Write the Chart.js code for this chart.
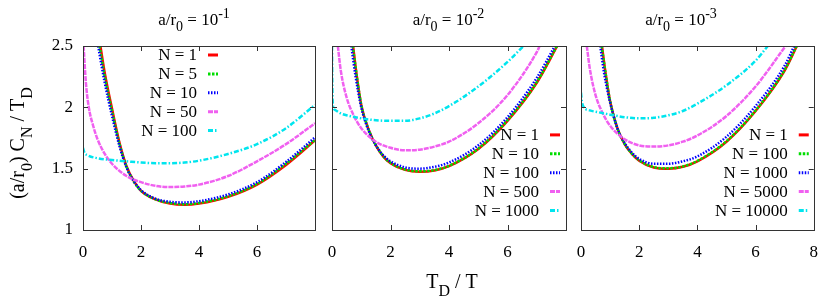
<!DOCTYPE html>
<html>
<head>
<meta charset="utf-8">
<script src="https://cdn.jsdelivr.net/npm/chart.js@4.4.1/dist/chart.umd.min.js"></script>
<style>
  html, body { margin: 0; padding: 0; background: #fff; }
  #wrap { position: relative; width: 830px; height: 308px; }
  .layer { position: absolute; left: 0; top: 0; width: 830px; height: 308px; }
  #probe { position: absolute; left: -1000px; top: 0; font-family: 'Liberation Serif', 'DejaVu Serif', serif; font-size: 17px; }
</style>
</head>
<body>
<div id="probe">N = 1 a/r 0123456789</div>
<div id="wrap">
  <div class="layer"><canvas id="c1"></canvas></div>
  <div class="layer"><canvas id="c2"></canvas></div>
  <div class="layer"><canvas id="c3"></canvas></div>
</div>
<script>
// ticks shared by all panels
const xTicks = [0, 2, 4, 6, 8];
const yTicks = [1, 1.5, 2, 2.5];

// legend labels
const labels1 = ['N = 1', 'N = 5', 'N = 10', 'N = 50', 'N = 100'];
const labels2 = ['N = 1', 'N = 10', 'N = 100', 'N = 500', 'N = 1000'];
const labels3 = ['N = 1', 'N = 100', 'N = 1000', 'N = 5000', 'N = 10000'];

// panel 1: a/r0 = 1e-1   [T_D/T, (a/r0) C_N / T_D]
const p1_n1 = [[0.6,2.5],[0.75,2.28],[1,1.99],[1.25,1.72],[1.5,1.52],[1.75,1.4],[2,1.32],[2.5,1.25],[3,1.215],[3.5,1.205],[4,1.215],[5,1.27],[6,1.37],[7,1.53],[8,1.73]];
const p1_n5 = [[0.57,2.5],[0.75,2.25],[1,1.97],[1.25,1.71],[1.5,1.515],[1.75,1.395],[2,1.32],[2.5,1.25],[3,1.22],[3.5,1.21],[4,1.22],[5,1.275],[6,1.375],[7,1.54],[8,1.735]];
const p1_n10 = [[0.52,2.5],[0.75,2.2],[1,1.93],[1.25,1.69],[1.5,1.51],[1.75,1.4],[2,1.325],[2.5,1.255],[3,1.23],[3.5,1.225],[4,1.235],[5,1.29],[6,1.39],[7,1.555],[8,1.755]];
const p1_n50 = [[0.02,2.5],[0.1,2.2],[0.2,2.0],[0.35,1.85],[0.5,1.74],[0.75,1.62],[1,1.54],[1.5,1.44],[2,1.39],[2.5,1.36],[3,1.35],[3.5,1.355],[4,1.37],[5,1.44],[6,1.56],[7,1.7],[8,1.87]];
const p1_n100 = [[0,1.67],[0.05,1.63],[0.15,1.61],[0.5,1.585],[1,1.57],[1.5,1.56],[2,1.55],[2.5,1.545],[3,1.545],[3.5,1.55],[4,1.565],[5,1.62],[6,1.7],[7,1.83],[8,2.02]];

// panel 2: a/r0 = 1e-2
const p2_n1 = [[0.72,2.5],[0.85,2.25],[1,2.02],[1.25,1.82],[1.5,1.69],[1.75,1.6],[2,1.545],[2.5,1.49],[3,1.475],[3.5,1.485],[4,1.52],[5,1.66],[6,1.89],[7,2.2],[7.7,2.5]];
const p2_n10 = [[0.71,2.5],[0.85,2.25],[1,2.02],[1.25,1.82],[1.5,1.692],[1.75,1.603],[2,1.548],[2.5,1.493],[3,1.478],[3.5,1.488],[4,1.523],[5,1.663],[6,1.895],[7,2.205],[7.69,2.5]];
const p2_n100 = [[0.66,2.5],[0.8,2.26],[1,2.0],[1.25,1.81],[1.5,1.69],[1.75,1.61],[2,1.56],[2.5,1.51],[3,1.5],[3.5,1.515],[4,1.55],[5,1.69],[6,1.92],[7,2.24],[7.62,2.5]];
const p2_n500 = [[0.2,2.5],[0.3,2.3],[0.5,2.08],[0.75,1.93],[1,1.83],[1.5,1.72],[2,1.67],[2.5,1.65],[3,1.655],[3.5,1.68],[4,1.72],[5,1.87],[6,2.1],[7,2.45],[7.1,2.5]];
const p2_n1000 = [[0,2.5],[0.01,2.2],[0.03,2.02],[0.1,1.98],[0.3,1.95],[0.6,1.93],[1,1.91],[1.5,1.895],[2,1.89],[2.5,1.89],[3,1.91],[3.5,1.95],[4,2.01],[5,2.17],[6,2.37],[6.55,2.5]];

// panel 3: a/r0 = 1e-3
const p3_n1 = [[0.72,2.5],[0.85,2.27],[1,2.05],[1.25,1.83],[1.5,1.7],[1.75,1.62],[2,1.565],[2.5,1.51],[3,1.5],[3.5,1.515],[4,1.56],[5,1.72],[6,1.97],[7,2.3],[7.42,2.5]];
const p3_n100 = [[0.71,2.5],[0.85,2.27],[1,2.05],[1.25,1.83],[1.5,1.702],[1.75,1.622],[2,1.568],[2.5,1.513],[3,1.503],[3.5,1.518],[4,1.563],[5,1.724],[6,1.974],[7,2.305],[7.41,2.5]];
const p3_n1000 = [[0.66,2.5],[0.8,2.27],[1,2.04],[1.25,1.83],[1.5,1.71],[1.75,1.63],[2,1.58],[2.5,1.54],[3,1.54],[3.5,1.56],[4,1.6],[5,1.76],[6,2.01],[7,2.34],[7.33,2.5]];
const p3_n5000 = [[0.2,2.5],[0.3,2.32],[0.5,2.1],[0.75,1.95],[1,1.85],[1.5,1.74],[2,1.69],[2.5,1.68],[3,1.69],[3.5,1.72],[4,1.77],[5,1.93],[6,2.17],[7,2.49],[7.03,2.5]];
const p3_n10000 = [[0,2.12],[0.03,2.05],[0.1,2.0],[0.3,1.975],[0.6,1.96],[1,1.94],[1.5,1.92],[2,1.91],[2.5,1.915],[3,1.935],[3.5,1.97],[4,2.03],[5,2.18],[6,2.38],[6.42,2.5]];

const FONT = "'Liberation Serif', 'DejaVu Serif', serif";

// gnuplot-ish line styles, one per series slot
const styles = [
  { color: '#ff0000', dash: [] },
  { color: '#00dd00', dash: [2.5, 1.5] },
  { color: '#0000ff', dash: [1.5, 1.5] },
  { color: '#f060f0', dash: [5, 1] },
  { color: '#00e5ee', dash: [5, 2, 1.5, 2] }
];

// draw text with sub/superscripts; parts = [[text, 0 normal | 1 sub | 2 sup], ...]
function drawRich(ctx, parts, x, y, size, align) {
  const small = Math.round(size * 0.82);
  let w = 0;
  parts.forEach(p => {
    ctx.font = (p[1] ? small : size) + 'px ' + FONT;
    w += ctx.measureText(p[0]).width;
  });
  let cx = align === 'center' ? x - w / 2 : x;
  ctx.textAlign = 'left';
  ctx.textBaseline = 'alphabetic';
  ctx.fillStyle = '#000';
  parts.forEach(p => {
    ctx.font = (p[1] ? small : size) + 'px ' + FONT;
    const dy = p[1] === 1 ? size * 0.38 : (p[1] === 2 ? -size * 0.42 : 0);
    ctx.fillText(p[0], cx, y + dy);
    cx += ctx.measureText(p[0]).width;
  });
}

const panelPlugin = {
  id: 'panel',
  afterDatasetsDraw(chart, args, opts) {
    const { ctx, chartArea: a, scales } = chart;
    ctx.save();
    ctx.strokeStyle = '#333';
    ctx.lineWidth = 1;
    ctx.setLineDash([]);
    ctx.strokeRect(Math.round(a.left) + 0.5, Math.round(a.top) + 0.5, Math.round(a.right - a.left), Math.round(a.bottom - a.top));
    ctx.beginPath();
    xTicks.forEach(v => {
      if (v <= 0 || v >= 8) return;
      const px = Math.round(scales.x.getPixelForValue(v)) + 0.5;
      ctx.moveTo(px, a.bottom); ctx.lineTo(px, a.bottom - 5);
      ctx.moveTo(px, a.top); ctx.lineTo(px, a.top + 5);
    });
    yTicks.forEach(v => {
      if (v <= 1 || v >= 2.5) return;
      const py = Math.round(scales.y.getPixelForValue(v)) + 0.5;
      ctx.moveTo(a.left, py); ctx.lineTo(a.left + 5, py);
      ctx.moveTo(a.right, py); ctx.lineTo(a.right - 5, py);
    });
    ctx.stroke();
    ctx.restore();
  },
  afterDraw(chart, args, opts) {
    const { ctx, chartArea: a } = chart;
    ctx.save();
    // title
    drawRich(ctx, opts.title, opts.titleX, 25, 17, 'center');
    // legend inside plot
    const lg = opts.legend;
    const textRight = lg.fromLeft != null ? a.left + lg.fromLeft : a.right - lg.fromRight;
    const n = chart.data.datasets.length;
    chart.data.datasets.forEach((ds, i) => {
      const y = lg.top != null ? a.top + lg.top + i * 18.9 : a.bottom - lg.bottom - (n - 1 - i) * 18.9;
      ctx.font = '17px ' + FONT;
      ctx.fillStyle = '#000';
      ctx.textAlign = 'right';
      ctx.textBaseline = 'middle';
      ctx.fillText(ds.label, textRight, y + 1);
      ctx.strokeStyle = ds.borderColor;
      ctx.lineWidth = 3;
      ctx.setLineDash(ds.borderDash);
      ctx.beginPath();
      ctx.moveTo(textRight + 11, y);
      ctx.lineTo(textRight + 21, y);
      ctx.stroke();
    });
    ctx.setLineDash([]);
    // axis titles
    if (opts.yTitle) {
      ctx.translate(24, 143);
      ctx.rotate(-Math.PI / 2);
      drawRich(ctx, [['(a/r', 0], ['0', 1], [') C', 0], ['N', 1], [' / T', 0], ['D', 1]], 0, 0, 20, 'center');
      ctx.setTransform(1, 0, 0, 1, 0, 0);
    }
    if (opts.xTitle) {
      drawRich(ctx, [['T', 0], ['D', 1], [' / T', 0]], 452, 288, 20, 'center');
    }
    ctx.restore();
  }
};

function makePanel(id, series, labels, cfg) {
  const datasets = series.map((s, i) => ({
    label: labels[i],
    data: s.map(p => ({ x: p[0], y: p[1] })),
    borderColor: styles[i].color,
    borderDash: styles[i].dash,
    borderWidth: 2.5,
    pointRadius: 0,
    showLine: true,
    fill: false,
    cubicInterpolationMode: 'monotone',
    order: 4 - i
  }));
  new Chart(document.getElementById(id), {
    type: 'scatter',
    data: { datasets },
    plugins: [panelPlugin],
    options: {
      responsive: true,
      maintainAspectRatio: false,
      animation: false,
      events: [],
      layout: { padding: { left: cfg.padLeft, right: cfg.padRight, top: 46, bottom: 48 } },
      scales: {
        x: {
          type: 'linear', min: 0, max: 8,
          grid: { display: false, drawTicks: false },
          border: { display: false },
          afterBuildTicks: s => { s.ticks = xTicks.filter(v => v <= cfg.maxXLabel).map(v => ({ value: v })); },
          ticks: { color: '#000', font: { family: FONT, size: 17 }, padding: 12, maxRotation: 0,
                   callback: v => String(v) },
          afterFit: s => { s.height = 30; }
        },
        y: {
          type: 'linear', min: 1, max: 2.5,
          grid: { display: false, drawTicks: false },
          border: { display: false },
          afterBuildTicks: s => { s.ticks = yTicks.map(v => ({ value: v })); },
          ticks: { display: cfg.yLabels, color: '#000', font: { family: FONT, size: 17 }, padding: 10,
                   callback: v => String(v) },
          afterFit: s => { s.width = cfg.yLabels ? 83 : 0; }
        }
      },
      plugins: {
        legend: { display: false },
        tooltip: { enabled: false },
        panel: cfg.panel
      }
    }
  });
}

function drawAll() {
  makePanel('c1', [p1_n1, p1_n5, p1_n10, p1_n50, p1_n100], labels1, {
    padLeft: 0, padRight: 515, yLabels: true, maxXLabel: 6,
    panel: { title: [['a/r', 0], ['0', 1], [' = 10', 0], ['-1', 2]], titleX: 194, legend: { fromLeft: 114, top: 9 }, yTitle: true }
  });
  makePanel('c2', [p2_n1, p2_n10, p2_n100, p2_n500, p2_n1000], labels2, {
    padLeft: 332, padRight: 264, yLabels: false, maxXLabel: 6,
    panel: { title: [['a/r', 0], ['0', 1], [' = 10', 0], ['-2', 2]], titleX: 448.5, legend: { fromRight: 27, bottom: 19.5 }, xTitle: true }
  });
  makePanel('c3', [p3_n1, p3_n100, p3_n1000, p3_n5000, p3_n10000], labels3, {
    padLeft: 581, padRight: 15, yLabels: false, maxXLabel: 8,
    panel: { title: [['a/r', 0], ['0', 1], [' = 10', 0], ['-3', 2]], titleX: 681, legend: { fromRight: 26, bottom: 19.5 } }
  });
}

let started = false;
function start() { if (!started) { started = true; drawAll(); } }
if (document.fonts && document.fonts.load) {
  Promise.all([
    document.fonts.load("17px 'Liberation Serif'"),
    document.fonts.load("20px 'Liberation Serif'")
  ]).then(start, start);
  setTimeout(start, 800);
} else {
  start();
}
</script>
</body>
</html>
